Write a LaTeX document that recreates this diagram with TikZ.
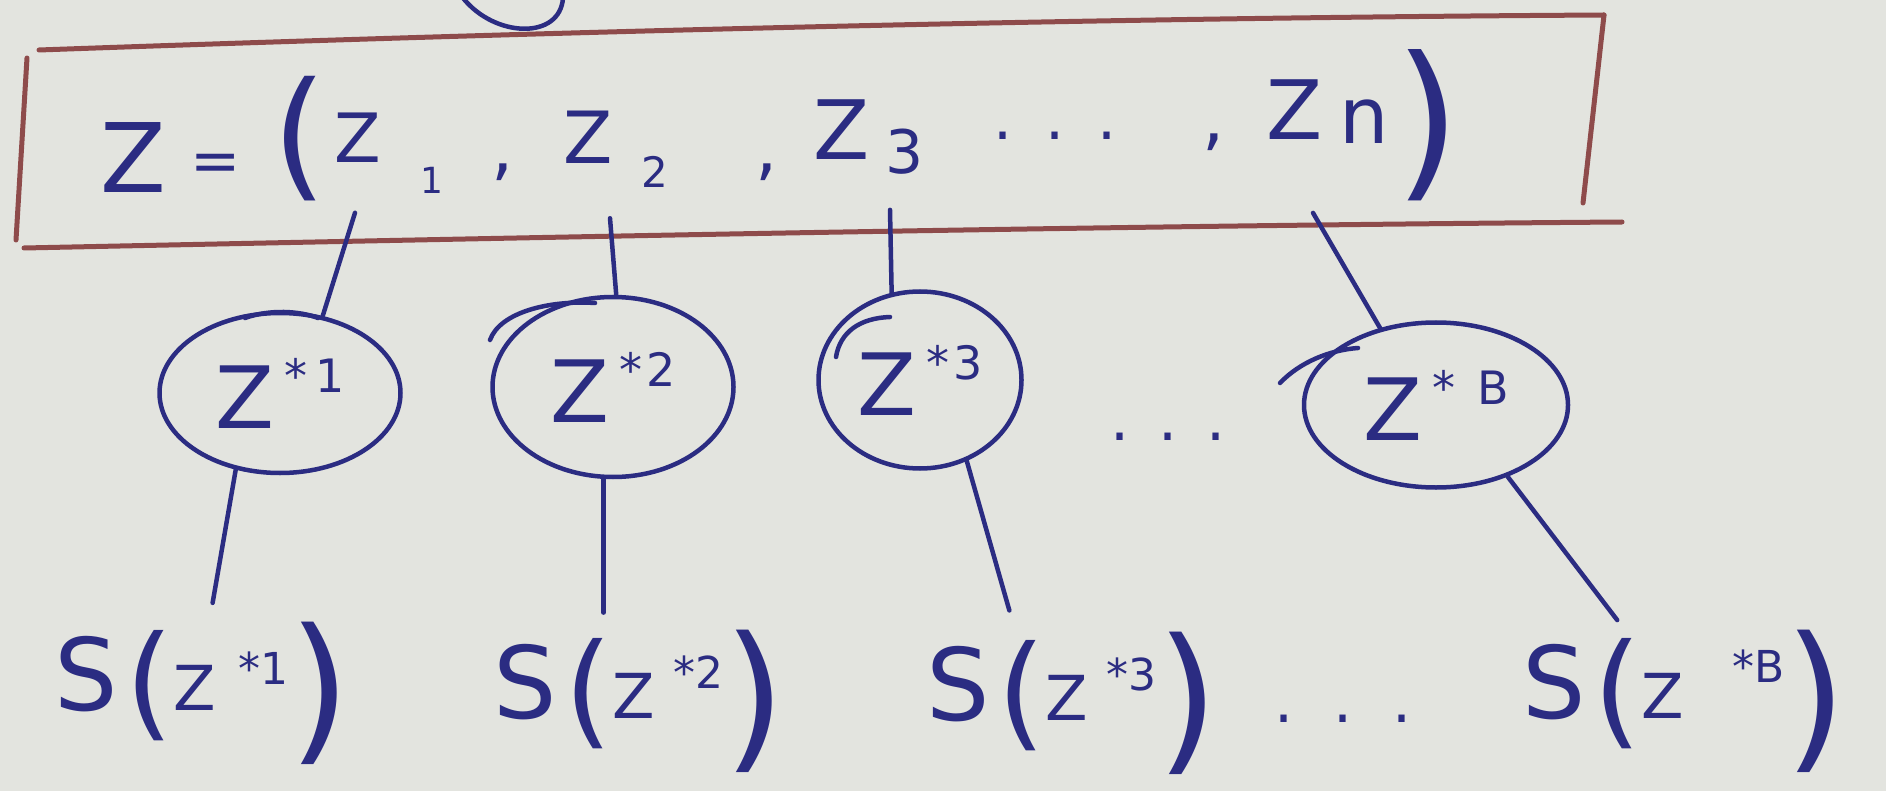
\documentclass[tikz,border=0pt]{standalone}
\usepackage{fontspec}
\setmainfont{DejaVu Sans}
\usetikzlibrary{shapes.geometric,calc}
\definecolor{ink}{HTML}{2B2C82}
\definecolor{boxred}{HTML}{8E4B4B}
\definecolor{paper}{HTML}{E3E4DF}
\newcommand{\setfs}[1]{\fontsize{#1}{#1}\selectfont}
% label inside a circle: Z with raised superscript parts
\newcommand{\Clab}[3]{{\setfs{86}Z}\hspace{10pt}\raisebox{36pt}{\setfs{46}#1}\hspace{#3}\raisebox{36pt}{\setfs{46}#2}}
% label S(Z^{...}) at the bottom
\newcommand{\Slab}[3]{{\setfs{100}S}\hspace{8pt}\raisebox{-14pt}{\setfs{124}(}{\setfs{62}Z}\hspace{#2}\raisebox{#3}{\setfs{44}#1}\raisebox{-33pt}{\setfs{160})}}
\begin{document}
\begin{tikzpicture}[x=1pt,y=-1pt,
  inkline/.style={draw=ink,line width=4.5pt,line cap=round,line join=round},
  boxline/.style={draw=boxred,line width=5pt,line cap=round},
  txt/.style={text=ink,inner sep=0pt,outer sep=0pt},
  circ/.style={ellipse,draw=ink,line width=4.5pt,inner sep=0pt,text=ink},
  conn/.style={inkline}]
\useasboundingbox (0,0) rectangle (1886,791);
\fill[paper] (0,0) rectangle (1886,791);

% partial circle at the top edge
\draw[inkline] (463,-2) .. controls (495,38) and (560,40) .. (563,-2);

% hand-drawn box
\draw[boxline] (39,50) .. controls (600,30) and (1100,18) .. (1604,15);
\draw[boxline] (27,58) -- (16,240);
\draw[boxline] (24,248) .. controls (600,236) and (1100,226) .. (1622,222);
\draw[boxline] (1604,15) -- (1583,203);

% top formula  Z = (z1 , z2 , z3 ...., zn)
\node[txt,font=\setfs{96}] (tZ) at (133,158) {Z};
\node[txt,font=\setfs{60}] (teq) at (216,168) {=};
\node[txt,font=\setfs{140}] (tlp) at (300,139) {(};
\node[txt,font=\setfs{68}] (z1) at (358,138) {Z};
\node[txt,font=\setfs{36}] (z1s) at (432,180) {1};
\node[txt,font=\setfs{70}] (cm1) at (503,172) {,};
\node[txt,font=\setfs{72}] (z2) at (588,137) {Z};
\node[txt,font=\setfs{42}] (z2s) at (655,172) {2};
\node[txt,font=\setfs{70}] (cm2) at (767,172) {,};
\node[txt,font=\setfs{82}] (z3) at (842,130) {Z};
\node[txt,font=\setfs{60}] (z3s) at (905,152) {3};
\node[txt,font=\setfs{60},anchor=base] (tdots) at (1055,140) {\makebox[123pt][s]{.\hfill.\hfill.}};
\node[txt,font=\setfs{70}] (cm3) at (1214,142) {,};
\node[txt,font=\setfs{82}] (zn) at (1295,110) {Z};
\node[txt,font=\setfs{78}] (zns) at (1364,122) {n};
\node[txt,font=\setfs{170}] (trp) at (1428,125) {)};

% circles
\node[circ,minimum width=241pt,minimum height=160pt] (c1) at (280,393) {\Clab{*}{1}{8pt}};
\node[circ,minimum width=241pt,minimum height=180pt] (c2) at (613,387) {\Clab{*}{2}{4pt}};
\node[circ,minimum width=203pt,minimum height=177pt] (c3) at (920,380) {\Clab{*}{3}{4pt}};
\node[txt,font=\setfs{60},anchor=base] (cdots) at (1168,440) {\makebox[115pt][s]{.\hfill.\hfill.}};
\node[circ,minimum width=264pt,minimum height=165pt] (cB) at (1436,405) {\Clab{*}{B}{22pt}};

% pen overshoot strokes on the circles
\draw[inkline] (245,318) .. controls (270,309) and (300,311) .. (318,318);
\draw[inkline] (490,340) .. controls (500,312) and (550,300) .. (595,303);
\draw[inkline] (836,357) .. controls (840,332) and (860,318) .. (890,317);
\draw[inkline] (1280,383) .. controls (1300,362) and (1330,350) .. (1358,348);

% bottom labels
\node[txt,anchor=base west] (b1) at (54,710) {\Slab{*1}{22pt}{26pt}};
\node[txt,anchor=base west] (b2) at (493,718) {\Slab{*2}{18pt}{30pt}};
\node[txt,anchor=base west] (b3) at (926,720) {\Slab{*3}{18pt}{30pt}};
\node[txt,font=\setfs{60},anchor=base] (bdots) at (1343,722) {\makebox[138pt][s]{.\hfill.\hfill.}};
\node[txt,anchor=base west] (bB) at (1522,718) {\Slab{*B}{48pt}{36pt}};

% connectors: formula -> circles
\draw[conn] (z1.south) ++(-3,50) -- (c1.61);
\draw[conn] (z2.south) ++(22,55) -- (c2.88);
\draw[conn] (z3.south) ++(48,50) -- (c3.108);
\draw[conn] (zn.south) ++(18,73) -- (cB.126);

% connectors: circles -> statistics
\draw[conn,shorten >=19pt] (c1.240) -- ([xshift=7pt]b1.north);
\draw[conn,shorten >=17pt] (c2.264) -- (c2.264 |- b2.north);
\draw[conn,shorten >=22pt] (c3.300) -- ([xshift=-57pt]b3.north);
\draw[conn,shorten >=12pt] (cB.315) -- ([xshift=-60pt]bB.north);
\end{tikzpicture}
\end{document}
